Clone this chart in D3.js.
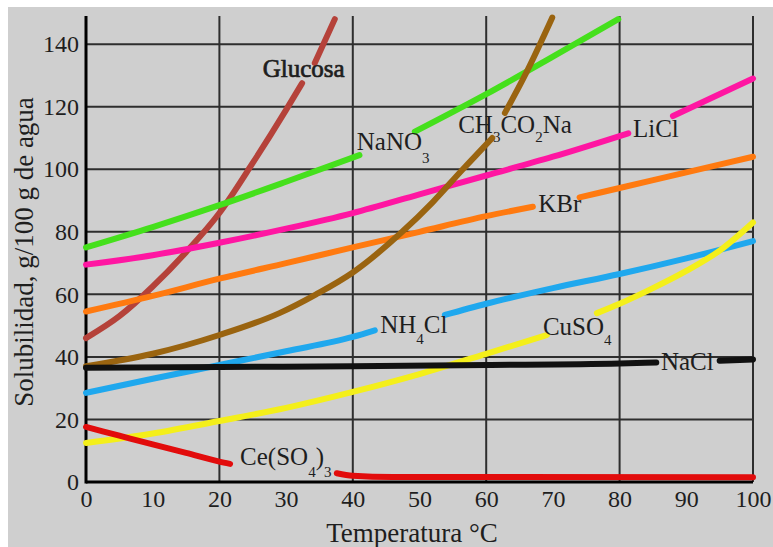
<!DOCTYPE html>
<html lang="es">
<head>
<meta charset="UTF-8">
<title>Solubilidad</title>
<script src="https://cdn.jsdelivr.net/npm/d3@7"></script>
<style>
  body { margin: 0; background: #fff; }
  svg text { font-family: "Liberation Serif", "Times New Roman", serif; fill: #1e1e1e; }
</style>
</head>
<body>
<svg id="chart" width="773" height="547"></svg>
<script>
// curvas de solubilidad: [temperatura °C, g/100 g de agua]; null = hueco donde va la etiqueta
const glucosa = [[0,46],[5,53],[10,62.5],[15,73.5],[20,86],[25,102],[30,119],[32.4,127.5], null, [34.3,134],[37.3,148]];
const nano3 = [[0,75],[10,81.5],[20,88.5],[30,96],[41,104.5], null, [49.3,112],[60,124],[70,136],[79.8,148]];
const ch3co2na = [[0,37],[10,41],[20,47],[29,54],[34.5,60],[40,67],[47.4,80],[52,89.5],[56.5,100],[58.5,104.5],[60.9,110], null, [62.8,118],[65.8,130],[69.9,148.5]];
const licl = [[0,69.5],[10,72.5],[20,76.5],[30,81],[40,86],[50,92],[60,98],[70,104],[81.3,111.5], null, [88,117],[100,129]];
const kbr = [[0,54.5],[10,59.5],[20,65],[30,70],[40,75],[50,80],[60,85],[67,88], null, [74,91],[80,94],[90,99],[100,104]];
const nh4cl = [[0,28.5],[10,33],[20,37.4],[30,41.8],[40,46.4],[43.3,48.5], null, [53.8,53.4],[60,57],[70,62],[80,66.5],[90,71.5],[100,77]];
const nacl = [[0,36.5],[20,36.8],[40,37],[60,37.4],[80,37.9],[85.5,38.2], null, [95,38.8],[100,39.2]];
const cuso4 = [[0,12.5],[10,15.5],[20,19.5],[30,23.7],[40,28.8],[50,34.5],[60,41],[69.1,47], null, [76.6,54],[80,57],[85,62],[90,67.5],[95,74],[100,83]];
const ce2so4 = [[0,17.6],[5,14.8],[10,12],[15,9.3],[20,6.5],[21.6,5.8], null, [37.6,2.8],[40,2],[46,1.6],[100,1.5]];

const xTicks = [0,10,20,30,40,50,60,70,80,90,100];
const yTicks = [0,20,40,60,80,100,120,140];
const xGrid = [20,40,60,80,100];

const series = [
  { datos: glucosa, color: "#b5423a" },
  { datos: nano3, color: "#45e01c" },
  { datos: licl, color: "#ff16a2" },
  { datos: kbr, color: "#ff7a10" },
  { datos: ch3co2na, color: "#9a6410" },
  { datos: nh4cl, color: "#1fa8ee" },
  { datos: cuso4, color: "#f4ef1a" },
  { datos: nacl, color: "#111111" },
  { datos: ce2so4, color: "#e20c0c" }
];

// etiquetas: partes [texto, subindice?], anclaje en unidades del grafico
const etiquetas = [
  { partes: [["Glucosa", false]], t: 26.5, v: 129.5, negrita: true },
  { partes: [["NaNO", false], ["3", true]], t: 40.6, v: 106.1, baja: 13 },
  { partes: [["CH", false], ["3", true], ["CO", false], ["2", true], ["Na", false]], t: 55.8, v: 111.5, baja: 9 },
  { partes: [["LiCl", false]], t: 82, v: 110.3 },
  { partes: [["KBr", false]], t: 67.8, v: 86.3 },
  { partes: [["NH", false], ["4", true], ["Cl", false]], t: 44.1, v: 47.6, baja: 11 },
  { partes: [["CuSO", false], ["4", true]], t: 68.5, v: 47, baja: 10 },
  { partes: [["NaCl", false]], t: 86.2, v: 35.8 },
  { partes: [["Ce(SO", false], ["4", true], [")", false], ["3", true]], t: 23.1, v: 5.4, baja: 12 }
];

const svg = d3.select("#chart");

const x = d3.scaleLinear().domain([0, 100]).range([86, 753]);
const y = d3.scaleLinear().domain([0, 149]).range([482, 16]);

// fondo gris
svg.append("rect")
  .attr("x", 8).attr("y", 7)
  .attr("width", 765).attr("height", 540)
  .attr("fill", "#cfcfcf");

// rejilla
svg.append("g").selectAll("line")
  .data(yTicks.filter(d => d > 0))
  .join("line")
  .attr("x1", x(0)).attr("x2", x(100))
  .attr("y1", d => y(d)).attr("y2", d => y(d))
  .attr("stroke", "#2e2e2e").attr("stroke-width", 2);

svg.append("g").selectAll("line")
  .data(xGrid)
  .join("line")
  .attr("x1", d => x(d)).attr("x2", d => x(d))
  .attr("y1", y(0)).attr("y2", y(149))
  .attr("stroke", "#2e2e2e").attr("stroke-width", 2);

// ejes en cero
svg.append("line")
  .attr("x1", x(0)).attr("x2", x(100)).attr("y1", y(0)).attr("y2", y(0))
  .attr("stroke", "#000").attr("stroke-width", 3);
svg.append("line")
  .attr("x1", x(0)).attr("x2", x(0)).attr("y1", y(0) + 1.5).attr("y2", y(149))
  .attr("stroke", "#000").attr("stroke-width", 3);

// etiquetas de los ejes
const ejeX = svg.append("g")
  .attr("transform", `translate(0, ${y(0)})`)
  .call(d3.axisBottom(x).tickValues(xTicks).tickSize(0).tickPadding(8).tickFormat(d3.format("d")));
const ejeY = svg.append("g")
  .attr("transform", `translate(${x(0)}, 0)`)
  .call(d3.axisLeft(y).tickValues(yTicks).tickSize(0).tickPadding(7).tickFormat(d3.format("d")));
[ejeX, ejeY].forEach(g => {
  g.select(".domain").remove();
  g.selectAll("text")
    .style("font-family", '"Liberation Serif", "Times New Roman", serif')
    .style("font-size", "24px")
    .attr("fill", "#2a2a2a");
});

// curvas
const linea = d3.line()
  .defined(d => d !== null)
  .x(d => x(d[0]))
  .y(d => y(d[1]))
  .curve(d3.curveMonotoneX);

svg.append("g").selectAll("path")
  .data(series)
  .join("path")
  .attr("d", s => linea(s.datos))
  .attr("fill", "none")
  .attr("stroke", s => s.color)
  .attr("stroke-width", 6)
  .attr("stroke-linecap", "round")
  .attr("stroke-linejoin", "round");

// nombres de los compuestos
etiquetas.forEach(e => {
  const txt = svg.append("text")
    .attr("x", x(e.t))
    .attr("y", y(e.v))
    .style("font-size", "25px");
  // "Glucosa" va algo mas gruesa, pero no en negrita completa
  if (e.negrita) txt.attr("stroke", "#1e1e1e").attr("stroke-width", 0.7);
  let abajo = false;
  e.partes.forEach(([s, sub]) => {
    const ts = txt.append("tspan").text(s);
    if (sub && !abajo) { ts.attr("dy", e.baja).style("font-size", "15px"); abajo = true; }
    else if (sub) { ts.style("font-size", "15px"); }
    else if (abajo) { ts.attr("dy", -e.baja); abajo = false; }
  });
});

// titulos
svg.append("text")
  .attr("x", 412).attr("y", 542)
  .attr("text-anchor", "middle")
  .style("font-size", "27px")
  .text("Temperatura °C");

svg.append("text")
  .attr("transform", "translate(33, 252) rotate(-90)")
  .attr("text-anchor", "middle")
  .style("font-size", "27px")
  .text("Solubilidad, g/100 g de agua");
</script>
</body>
</html>
